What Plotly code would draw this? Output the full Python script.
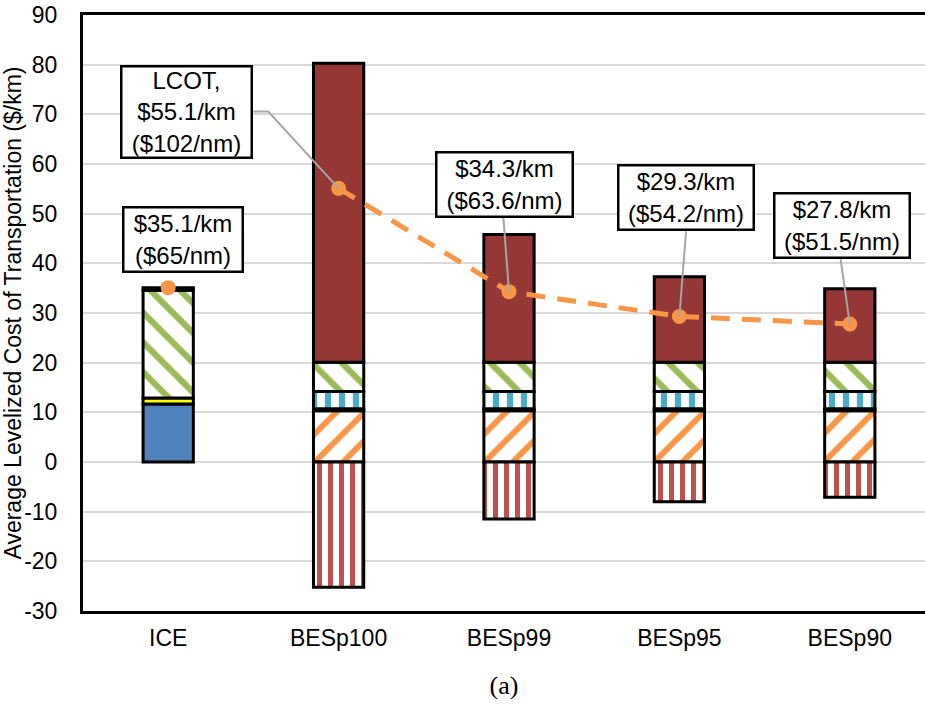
import plotly.graph_objects as go

# ---- data ($/km) ----
categories = ["ICE", "BESp100", "BESp99", "BESp95", "BESp90"]

# stacked cost components (None where a component does not apply)
ice_fuel      = [11.7, None, None, None, None]
bes_orange    = [None, 10.3, 10.3, 10.3, 10.3]
ice_yellow    = [1.2, None, None, None, None]
bes_thin      = [None, 0.4, 0.4, 0.4, 0.4]
bes_blue      = [None, 3.5, 3.5, 3.5, 3.5]
green_hatch   = [21.7, 5.9, 5.9, 5.9, 5.9]
ice_purple    = [0.5, None, None, None, None]
bes_battery   = [None, 60.2, 25.7, 17.2, 14.8]
bes_credit    = [None, -25.2, -11.5, -8.0, -7.1]

# levelized cost of transportation
lcot_km = [35.1, 55.1, 34.3, 29.3, 27.8]
lcot_nm = ["65", "102", "63.6", "54.2", "51.5"]

# y-axis ticks
y_ticks = [-30, -20, -10, 0, 10, 20, 30, 40, 50, 60, 70, 80, 90]

x = list(range(len(categories)))

FONT = "Liberation Sans, Arial, sans-serif"
BAR_W = 0.295
EDGE = dict(color="black", width=3)

fig = go.Figure()


def solid(vals, color, name):
    fig.add_trace(go.Bar(x=x, y=vals, name=name, width=BAR_W,
                         marker=dict(color=color, line=EDGE)))


def hatched(vals, color, shape, size, solidity, name):
    fig.add_trace(go.Bar(x=x, y=vals, name=name, width=BAR_W,
                         marker=dict(color="white", line=EDGE,
                                     pattern=dict(shape=shape, fgcolor=color,
                                                  bgcolor="white", size=size,
                                                  solidity=solidity,
                                                  fgopacity=1,
                                                  fillmode="replace"))))


solid(ice_fuel, "#4F81BD", "Fuel")
hatched(bes_orange, "#F79646", "/", 20, 0.3, "Energy")
solid(ice_yellow, "#FFFF00", "Lubricants")
solid(bes_thin, "#4F6228", "Other")
hatched(bes_blue, "#4BACC6", "|", 14, 0.45, "Charging")
hatched(green_hatch, "#9BBB59", "\\", 21, 0.3, "Maintenance")
solid(ice_purple, "#8064A2", "Emissions")
solid(bes_battery, "#953735", "Battery")
hatched(bes_credit, "#C0504D", "|", 11, 0.45, "Credit")

# LCOT markers: ICE on its own, BES variants joined by a dashed line
ORANGE = "#F79646"
fig.add_trace(go.Scatter(x=x[:1], y=lcot_km[:1], mode="markers",
                         marker=dict(color=ORANGE, size=15), name="LCOT ICE"))
fig.add_trace(go.Scatter(x=x[1:], y=lcot_km[1:], mode="lines+markers",
                         line=dict(color=ORANGE, width=5, dash="19px,12px"),
                         marker=dict(color=ORANGE, size=15), name="LCOT"))

# ---- callout boxes ----
PX_PER_UNIT = 4.968      # vertical pixels per $/km
PX_PER_CAT = 170.4       # horizontal pixels per category
GRAY = "#A6A6A6"

# (x center, y center, width px, height px)
boxes = [
    (0.088, 44.9, 122, 67),
    (0.109, 70.55, 133, 94),
    (1.976, 55.9, 139, 67),
    (3.037, 53.2, 138, 67),
    (3.953, 47.6, 138, 67),
]
# horizontal offset of each vertical leader's top end from its box centre
leader_dx = [0, 0, -0.009, 0.002, -0.007]

for i, (bx, by, bw, bh) in enumerate(boxes):
    txt = f"${lcot_km[i]}/km<br>(${lcot_nm[i]}/nm)"
    if i == 1:
        txt = "LCOT,<br>" + txt
    fig.add_annotation(x=bx, y=by, xref="x", yref="y", text=txt,
                       showarrow=False, xanchor="center", yanchor="middle",
                       font=dict(family=FONT, size=24, color="black"),
                       bgcolor="white", bordercolor="black", borderwidth=2.5,
                       borderpad=0, width=bw - 5, height=bh - 5)

# leader lines from the boxes to the LCOT points
bx, by, bw, bh = boxes[1]
right = bx + (bw / 2) / PX_PER_CAT
fig.add_shape(type="path",
              path=f"M {right},{by} L {right + 15 / PX_PER_CAT},{by} L {x[1]},{lcot_km[1]}",
              xref="x", yref="y", line=dict(color=GRAY, width=2))
for i in (2, 3, 4):
    bx, by, bw, bh = boxes[i]
    bottom = by - (bh / 2) / PX_PER_UNIT
    fig.add_shape(type="line", x0=bx + leader_dx[i], y0=bottom,
                  x1=x[i], y1=lcot_km[i], xref="x", yref="y",
                  line=dict(color=GRAY, width=2))

fig.update_layout(
    width=925, height=705,
    margin=dict(l=83, r=0, t=15, b=94),
    barmode="relative",
    showlegend=False,
    plot_bgcolor="white", paper_bgcolor="white",
    font=dict(family=FONT, size=24, color="black"),
)
fig.update_xaxes(
    range=[-0.5, -0.5 + 842 / PX_PER_CAT],
    tickmode="array", tickvals=x, ticktext=categories,
    showgrid=False, zeroline=False,
    showline=True, linecolor="black", linewidth=3, mirror=True,
    ticks="outside", ticklen=4, tickcolor="rgba(0,0,0,0)",
    tickfont=dict(family=FONT, size=23),
    title=dict(text="(a)", standoff=27,
               font=dict(family="Liberation Serif, Times New Roman, serif",
                         size=26, color="black")),
)
fig.update_yaxes(
    range=[-30, 90],
    tickmode="array", tickvals=y_ticks, ticktext=[str(v) for v in y_ticks],
    showgrid=True, gridcolor="#D9D9D9", gridwidth=2,
    zeroline=False,
    showline=True, linecolor="black", linewidth=3,
    ticks="", ticklabelstandoff=18,
    tickfont=dict(family=FONT, size=23),
    title=dict(text="Average Levelized Cost of Transportation ($/km)",
               font=dict(family=FONT, size=23), standoff=6),
)

fig.write_html("out.html")
